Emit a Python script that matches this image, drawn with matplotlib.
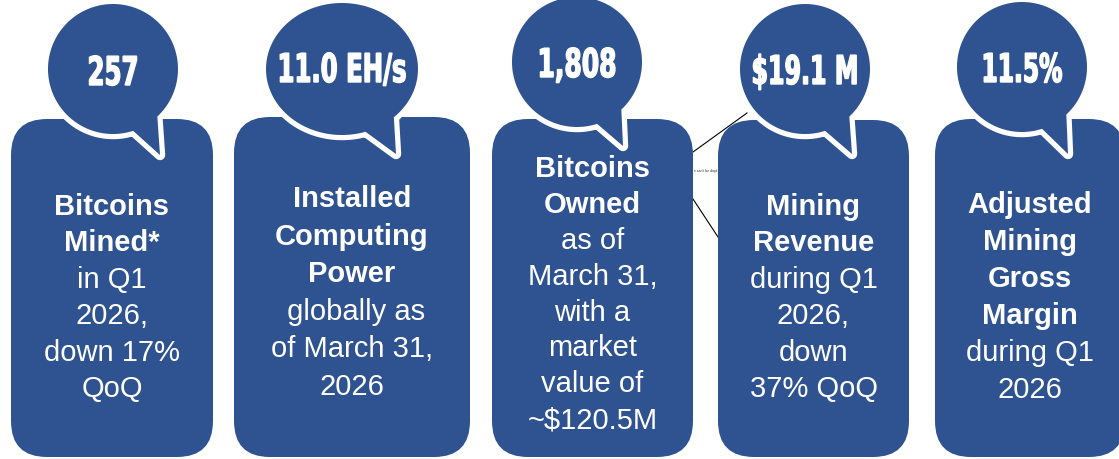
import numpy as np
import matplotlib
matplotlib.use("Agg")
import matplotlib.pyplot as plt
from matplotlib.patches import FancyBboxPatch, Polygon
from matplotlib.patheffects import AbstractPathEffect
from matplotlib.transforms import Affine2D

# ---- content ----
values = ['257', '11.0 EH/s', '1,808', '$19.1 M', '11.5%']
bold_lines = [['Bitcoins', 'Mined*'],
              ['Installed', 'Computing', 'Power'],
              ['Bitcoins', 'Owned'],
              ['Mining', 'Revenue'],
              ['Adjusted', 'Mining', 'Gross', 'Margin']]
detail_lines = [['in Q1', '2026,', 'down 17%', 'QoQ'],
                [' globally as', 'of March 31,', '2026'],
                ['as of', 'March 31,', 'with a', 'market', 'value of', '~$120.5M'],
                ['during Q1', '2026,', 'down', '37% QoQ'],
                ['during Q1', '2026']]

# ---- layout (pixel coordinates) ----
BLUE = '#2F5390'
W, H = 1119, 460
box_x = [(11, 213), (234, 470), (492, 693), (718, 909), (935, 1125)]
box_top = [120, 118, 120, 121, 120]
box_bottom = 458
bubble_c = [(113, 70), (342, 70), (577, 63), (805, 70), (1022, 68)]
bubble_r = [(65, 65), (76, 66), (65, 65), (65, 65), (65, 65)]
tail_tip = [(47, 86), (54, 85), (46, 84), (47, 85), (46, 87)]
num_base = [86, 83, 78, 85, 83]
num_width = [52, 130, 80, 108, 82]
text_first = [215, 207, 177, 215, 213]
text_step = [36.4, 37.6, 35.9, 36.4, 37.0]

fig = plt.figure(figsize=(W / 100, H / 100), dpi=100)
ax = fig.add_axes([0, 0, 1, 1])
ax.set_xlim(0, W)
ax.set_ylim(H, 0)
ax.set_aspect('auto')
ax.axis('off')

NUMFONT = ['DejaVu Sans']
TXTFONT = ['Liberation Sans', 'DejaVu Sans']


class Condense(AbstractPathEffect):
    """Squeeze glyphs horizontally around a display x position."""

    def __init__(self, cx, sx, stroke=0.0):
        super().__init__()
        self.cx, self.sx, self.stroke = cx, sx, stroke

    def draw_path(self, renderer, gc, tpath, affine, rgbFace=None):
        t = affine + Affine2D().translate(-self.cx, 0).scale(self.sx, 1) \
            .translate(self.cx, 0)
        gc0 = renderer.new_gc()
        gc0.copy_properties(gc)
        if self.stroke > 0 and rgbFace is not None:
            gc0.set_linewidth(self.stroke)
            gc0.set_foreground(rgbFace)
            gc0.set_joinstyle('miter')
        renderer.draw_path(gc0, tpath, t, rgbFace)
        gc0.restore()


def bubble_pts(cx, cy, rx, ry, tip):
    a_start, a_end = np.deg2rad(72), np.deg2rad(47 + 360)
    th = np.linspace(a_start, a_end, 200)
    pts = np.column_stack([cx + rx * np.cos(th), cy + ry * np.sin(th)])
    pts = np.vstack([pts, [cx + tip[0], cy + tip[1]]])
    return pts


renderer = fig.canvas.get_renderer()

for i in range(5):
    x0, x1 = box_x[i]
    y0 = box_top[i]
    box = FancyBboxPatch((x0, y0), x1 - x0, box_bottom - y0,
                         boxstyle='round,pad=0,rounding_size=36',
                         facecolor=BLUE, edgecolor='none', zorder=2)
    ax.add_patch(box)

    cx, cy = bubble_c[i]
    rx, ry = bubble_r[i]
    pts = bubble_pts(cx, cy, rx, ry, tail_tip[i])
    ax.add_patch(Polygon(pts, closed=True, facecolor=BLUE, edgecolor='white',
                         linewidth=7.5, joinstyle='round', zorder=3))
    ax.add_patch(Polygon(pts, closed=True, facecolor=BLUE, edgecolor='none',
                         zorder=4))

    t = ax.text(cx, num_base[i], values[i], color='white', fontsize=28.5,
                fontweight='bold', family=NUMFONT, ha='center', va='baseline',
                zorder=5)
    wpx = t.get_window_extent(renderer).width
    sx = (num_width[i] - 1.0) / wpx
    t.set_path_effects([Condense(cx, sx, stroke=1.0)])

    xc = (x0 + min(x1, W + 6)) / 2
    lines = [(s, 'bold') for s in bold_lines[i]] + \
            [(s, 'normal') for s in detail_lines[i]]
    for k, (s, w) in enumerate(lines):
        ax.text(xc, text_first[i] + k * text_step[i], s, color='white',
                fontsize=21, fontweight=w, family=TXTFONT, ha='center',
                va='baseline', zorder=5)

# stray connector lines and broken-image placeholder text
ax.plot([693, 747], [153, 114], color='black', lw=0.8, zorder=1)
ax.plot([693, 718], [200, 238], color='black', lw=0.8, zorder=1)
ax.text(694, 171, "s can't be displ", fontsize=2.5, color='#333333',
        family=TXTFONT, ha='left', va='center', zorder=1)

fig.savefig('out.png', dpi=100)
